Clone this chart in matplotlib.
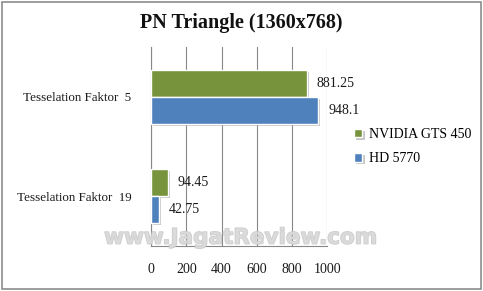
import matplotlib
matplotlib.use('Agg')

import matplotlib.pyplot as plt
import matplotlib.patheffects as pe
from matplotlib.patches import Rectangle
import numpy as np

# data
categories = ['Tesselation Faktor  19', 'Tesselation Faktor  5']
series_names = ['NVIDIA GTS 450', 'HD 5770']
gts450 = [94.45, 881.25]
hd5770 = [42.75, 948.1]
value_labels = [['94.45', '881.25'], ['42.75', '948.1']]
xticks = [0, 200, 400, 600, 800, 1000]

colors = ['#77933C', '#4F81BD']
serif = ['Liberation Serif', 'DejaVu Serif']

fig = plt.figure(figsize=(4.83, 2.91), dpi=100)
ax = fig.add_axes([0.3126, 0.1546, 0.3654, 0.684])

y = np.arange(len(categories))
h = 0.27
shadow = [pe.SimplePatchShadow(offset=(1.5, -1.5), shadow_rgbFace='#909090', alpha=0.5), pe.Normal()]

for i, (vals, name) in enumerate(zip([gts450, hd5770], series_names)):
    pos = y + (h / 2 if i == 0 else -h / 2)
    bars = ax.barh(pos, vals, height=h, color=colors[i], edgecolor='white',
                   linewidth=1, label=name, zorder=3)
    for b in bars:
        b.set_path_effects(shadow)
    for b, txt in zip(bars, value_labels[i]):
        ax.annotate(txt, (b.get_width(), b.get_y() + b.get_height() / 2),
                    xytext=(7, 0), textcoords='offset points', va='center',
                    ha='left', fontsize=10, family=serif, color='#1a1a1a', zorder=4)

ax.set_xlim(0, 1000)
ax.set_ylim(-0.5, 1.5)
ax.set_xticks(xticks)
ax.set_xticklabels([str(t) for t in xticks], family=serif, fontsize=10)
ax.set_yticks(y)
ax.set_yticklabels(categories, family=serif, fontsize=9.4)
ax.tick_params(axis='both', length=0, colors='#1a1a1a')
ax.tick_params(axis='x', pad=12)
ax.tick_params(axis='y', pad=14)

ax.grid(True, axis='x', color='#888888', linewidth=0.8, zorder=0)
ax.set_axisbelow(True)
for s in ['top', 'right']:
    ax.spines[s].set_visible(False)
ax.spines['left'].set_color('#888888')
ax.spines['bottom'].set_color('#888888')
ax.spines['left'].set_linewidth(0.8)
ax.spines['bottom'].set_linewidth(0.8)

fig.text(0.5, 0.92, 'PN Triangle (1360x768)', ha='center', va='center',
         fontsize=14.5, fontweight='bold', family=serif, color='#111111')

leg = ax.legend(loc='center left', bbox_to_anchor=(1.08, 0.5), frameon=False,
                prop={'family': serif, 'size': 10}, handlelength=0.6,
                handleheight=0.6, handletextpad=0.5, labelspacing=0.8)

# watermark
fig.text(0.498, 0.183, 'www.JagatReview.com', ha='center', va='center',
         fontsize=15.5, fontweight='bold', family='DejaVu Sans', color='#dadada',
         alpha=0.8, path_effects=[pe.withStroke(linewidth=1.0, foreground='#c4c4c4')],
         zorder=1)

fig.patches.append(Rectangle((0.004, 0.007), 0.992, 0.986, transform=fig.transFigure,
                             fill=False, edgecolor='#8c8c8c', linewidth=1.2))

fig.savefig('out.png', dpi=100)
plt.close(fig)
